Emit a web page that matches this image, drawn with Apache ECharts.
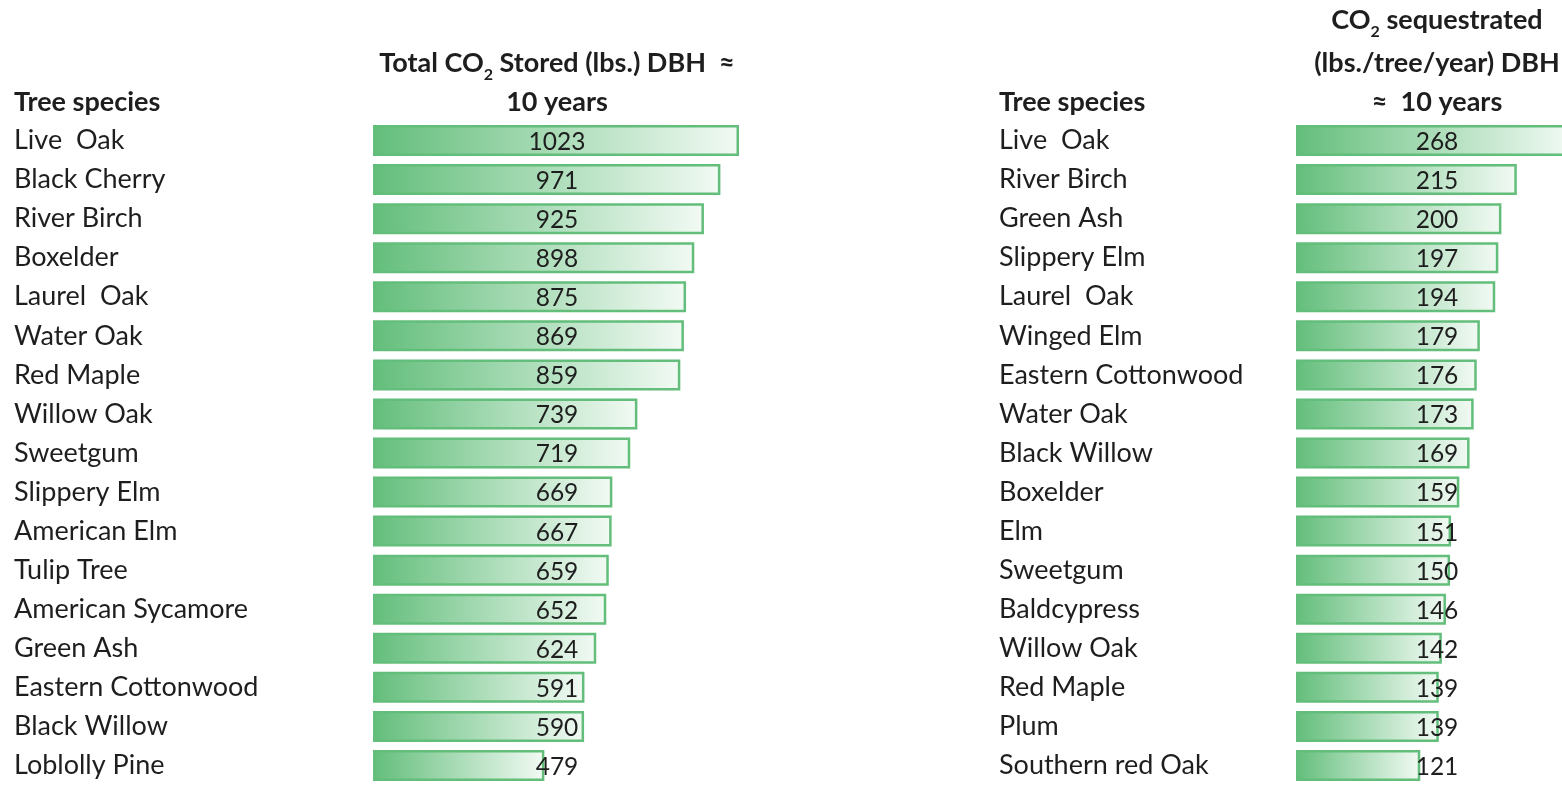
<!DOCTYPE html>
<html>
<head>
<meta charset="utf-8">
<script src="https://cdn.jsdelivr.net/npm/echarts@6/dist/echarts.min.js"></script>
<style>
  html, body { margin: 0; padding: 0; background: #fff; }
  #chart { width: 1562px; height: 785px; }
</style>
</head>
<body>
<div id="chart"></div>
<script>
// left table: total CO2 stored
const storedSpecies = ['Live  Oak', 'Black Cherry', 'River Birch', 'Boxelder', 'Laurel  Oak', 'Water Oak',
  'Red Maple', 'Willow Oak', 'Sweetgum', 'Slippery Elm', 'American Elm', 'Tulip Tree',
  'American Sycamore', 'Green Ash', 'Eastern Cottonwood', 'Black Willow', 'Loblolly Pine']
const storedValues = [1023, 971, 925, 898, 875, 869, 859, 739, 719, 669, 667, 659, 652, 624, 591, 590, 479]

// right table: CO2 sequestrated per year
const seqSpecies = ['Live  Oak', 'River Birch', 'Green Ash', 'Slippery Elm', 'Laurel  Oak', 'Winged Elm',
  'Eastern Cottonwood', 'Water Oak', 'Black Willow', 'Boxelder', 'Elm', 'Sweetgum',
  'Baldcypress', 'Willow Oak', 'Red Maple', 'Plum', 'Southern red Oak']
const seqValues = [268, 215, 200, 197, 194, 179, 176, 173, 169, 159, 151, 150, 146, 142, 139, 139, 121]

const FONT = 'Lato'
const TXT = '#1e1e1e'
const GREEN = '#63BE7B'

const myChart = echarts.init(document.getElementById('chart'))

const barFill = {
  type: 'linear', x: 0, y: 0, x2: 1, y2: 0,
  colorStops: [{offset: 0, color: GREEN}, {offset: 1, color: '#F2FAF4'}]
}

function catAxis(grid, names, margin) {
  return {
    type: 'category', gridIndex: grid, data: names, inverse: true,
    axisLine: {show: false}, axisTick: {show: false},
    axisLabel: {align: 'left', margin: margin, fontFamily: FONT, fontSize: 27, color: TXT}
  }
}

function barSeries(grid, values, labelX) {
  return {
    type: 'bar', xAxisIndex: grid, yAxisIndex: grid, data: values, barWidth: 31,
    clip: false,
    itemStyle: {color: barFill, borderColor: GREEN, borderWidth: 2.5},
    label: {show: true, position: 'inside', fontFamily: FONT, fontSize: 24.5, color: TXT},
    // values sit centred in the column like the spreadsheet cells
    labelLayout: (p) => ({x: labelX, y: p.rect.y + p.rect.height / 2 + 1.5, align: 'center', verticalAlign: 'middle'})
  }
}

const headStyle = {
  fontFamily: FONT, fontSize: 27, fontWeight: 'bold', color: TXT, lineHeight: 40,
  rich: {
    sub: {fontFamily: FONT, fontSize: 16, fontWeight: 'bold', color: TXT, lineHeight: 20, verticalAlign: 'bottom'}
  }
}

// one header line, centred on x, middle at y
function head(text, x, y, align) {
  return {text: text, left: x, top: y - 20, padding: 0, textAlign: align || 'center', textStyle: headStyle}
}

myChart.setOption({
  animation: false,
  title: [
    head('Total CO{sub|2} Stored (lbs.) DBH  ≈', 557, 63),
    head('10 years', 557, 102),
    head('CO{sub|2} sequestrated', 1437, 20),
    head('(lbs./tree/year) DBH', 1437, 63),
    head('≈  10 years', 1437, 102),
    head('Tree species', 14, 102, 'left'),
    head('Tree species', 999, 102, 'left')
  ],
  grid: [
    {left: 373, width: 366, top: 121, height: 668},
    {left: 1296, right: 0, top: 121, height: 668}
  ],
  xAxis: [
    {type: 'value', gridIndex: 0, min: 0, max: 1023, show: false},
    // the top bar runs off the right edge of the picture
    {type: 'value', gridIndex: 1, min: 0, max: 259, show: false}
  ],
  yAxis: [
    catAxis(0, storedSpecies, 359),
    catAxis(1, seqSpecies, 297)
  ],
  series: [
    barSeries(0, storedValues, 557),
    barSeries(1, seqValues, 1437)
  ]
})
</script>
</body>
</html>
